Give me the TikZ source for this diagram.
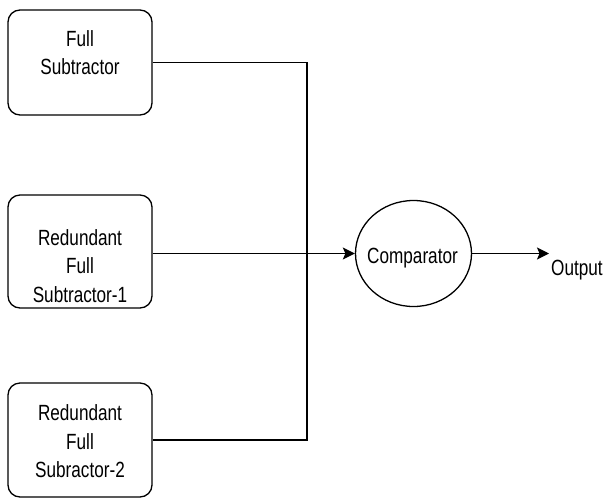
\documentclass[tikz,border=0pt]{standalone}
\usepackage{fontspec}
\setmainfont{Liberation Sans}[FakeStretch=0.78]
\usetikzlibrary{shapes.geometric,arrows.meta}
\tikzset{
  blockbox/.style={draw, line width=1.3pt, rounded corners=12pt, minimum width=144pt, inner sep=0pt},
  lbl/.style={inner sep=0pt, align=center, font=\fontsize{22}{28.5}\selectfont},
  wire/.style={line width=1.5pt},
  arr/.style={wire, -{Stealth[length=12pt,width=12pt,inset=2.5pt]}},
}
\begin{document}
\begin{tikzpicture}[x=1pt,y=-1pt]
\useasboundingbox (0,0) rectangle (605,499);
% boxes
\node[blockbox, minimum height=105pt] (b1) at (80,62.5) {};
\node[blockbox, minimum height=113pt] (b2) at (80,251.5) {};
\node[blockbox, minimum height=114pt] (b3) at (80,440) {};
\node[lbl] (t1) at (80,52.5) {Full\\Subtractor};
\node[lbl] (t2) at (80,266) {Redundant\\Full\\Subtractor-1};
\node[lbl] (t3) at (80,441.5) {Redundant\\Full\\Subractor-2};
% comparator
\node[draw, ellipse, line width=1.3pt, minimum width=116pt, minimum height=106pt, inner sep=0pt] (cmp) at (413.5,253.5) {};
\node[lbl, anchor=base] (cmptxt) at (412.5,263) {Comparator};
\node[lbl, anchor=base west] (out) at (551,275) {Output};
\coordinate (outend) at (549,253.5);
\coordinate (bus) at (307,0);
% wires
\draw[wire] (b1.east) -| (bus |- b3.east) -- (b3.east);
\draw[arr] (b2.east |- cmp.west) -- (cmp.west);
\draw[arr] (cmp.east) -- (outend);
\end{tikzpicture}
\end{document}
